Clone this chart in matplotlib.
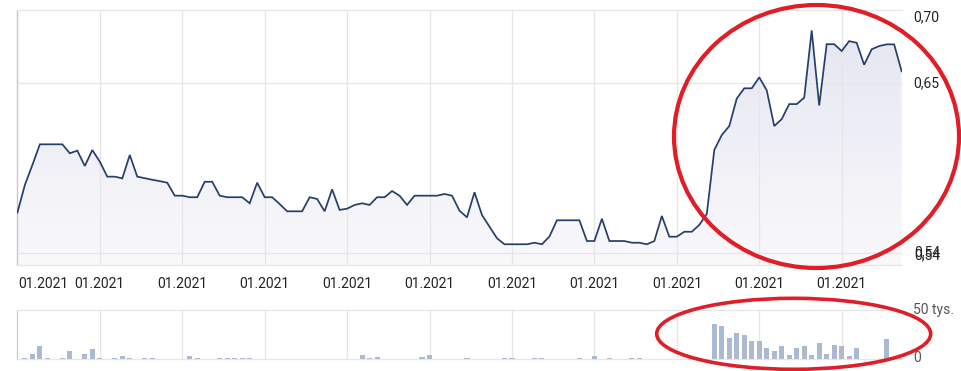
import numpy as np
import matplotlib
matplotlib.use("Agg")
import matplotlib.pyplot as plt
from matplotlib.patches import Polygon, Ellipse

plt.rcParams['font.family'] = ['Roboto', 'DejaVu Sans']

# ---------------- data ----------------
price = [
    0.5662, 0.5841, 0.5970, 0.6104, 0.6104, 0.6104, 0.6104, 0.6046, 0.6063, 0.5964,
    0.6067, 0.5992, 0.5895, 0.5895, 0.5884, 0.6035, 0.5895, 0.5885, 0.5875, 0.5866,
    0.5856, 0.5772, 0.5772, 0.5762, 0.5762, 0.5862, 0.5862, 0.5772, 0.5762, 0.5762,
    0.5762, 0.5723, 0.5856, 0.5762, 0.5762, 0.5718, 0.5671, 0.5671, 0.5671, 0.5762,
    0.5751, 0.5671, 0.5813, 0.5680, 0.5688, 0.5712, 0.5723, 0.5712, 0.5762, 0.5762,
    0.5802, 0.5772, 0.5712, 0.5772, 0.5772, 0.5772, 0.5772, 0.5783, 0.5772, 0.5675,
    0.5632, 0.5794, 0.5647, 0.5572, 0.5497, 0.5458, 0.5458, 0.5458, 0.5458, 0.5468,
    0.5458, 0.5508, 0.5613, 0.5613, 0.5613, 0.5613, 0.5479, 0.5479, 0.5623, 0.5479,
    0.5479, 0.5479, 0.5468, 0.5468, 0.5458, 0.5479, 0.5641, 0.5507, 0.5507, 0.5539,
    0.5539, 0.5583, 0.5654, 0.6067, 0.6164, 0.6222, 0.6400, 0.6466, 0.6466, 0.6537,
    0.6453, 0.6222, 0.6267, 0.6364, 0.6364, 0.6405, 0.6840, 0.6355, 0.6751, 0.6751,
    0.6707, 0.6771, 0.6760, 0.6618, 0.6718, 0.6739, 0.6750, 0.6750, 0.6576,
]

volume_k = [
    0, 1.5, 5, 13, 1.3, 0, 1.3, 8, 0, 5,
    10, 0.7, 0, 0.7, 3, 1.3, 0, 1, 1, 0,
    0, 0, 0, 2.7, 1.3, 0, 0, 1, 1, 1.3,
    1.3, 0.7, 0, 0, 0, 0.5, 0, 0, 0, 0,
    0, 0, 0.5, 0.5, 0.5, 0.5, 4, 1, 2.3, 0,
    0, 0, 0, 0, 2.3, 4.3, 0, 0.5, 0, 0,
    1.3, 0, 0.5, 0, 0, 1.3, 1.3, 0.5, 0, 0.7,
    1, 0, 0, 0.5, 0, 0.7, 0, 2.7, 0, 0.7,
    0, 0.5, 0.7, 1.3, 0, 0.3, 0.3, 0.3, 0, 0,
    0, 0, 0, 36, 34, 21.7, 27, 25, 18.7, 18.7,
    11, 8, 13, 4, 11, 13, 4, 16.7, 5, 14,
    13, 3, 11.6, 0, 0, 0, 20, 0, 1,
]

tick_pos = [0, 11, 22, 33, 44, 55, 66, 77, 88, 99, 110]
tick_labels = ["01.2021"] * len(tick_pos)
ytick_vals = [0.70, 0.65, 0.54]
ytick_labels = ["0,70", "0,65", "0,54"]
vol_labels = ["50 tys.", "0"]

# ---------------- layout ----------------
W, H = 962, 371
fig = plt.figure(figsize=(W / 100, H / 100), dpi=100)

def fx(px):
    return px / W

def fy(py):
    return 1 - py / H

L, R = 17, 902
ax = fig.add_axes([fx(L), fy(265), fx(R - L), (265 - 10) / H])
axv = fig.add_axes([fx(L), fy(359), fx(R - L), (359 - 310) / H])

x = np.arange(len(price))
xlim = (-0.05, len(price) - 1 + 0.05)
ylim = (0.5324, 0.6972)

grid_c = '#e6e6e9'
line_c = '#263f6a'

# ---- main panel ----
ax.set_xlim(*xlim)
ax.set_ylim(*ylim)
for p in tick_pos[1:]:
    ax.axvline(p, color=grid_c, lw=0.9, zorder=2)
for v in ytick_vals[1:]:
    ax.axhline(v, color=grid_c, lw=0.9, zorder=2)

verts = [(x[0], ylim[0])] + list(zip(x, price)) + [(x[-1], ylim[0])]
poly = Polygon(verts, closed=True, facecolor='none', edgecolor='none')
ax.add_patch(poly)
grad = np.linspace(0, 1, 256).reshape(-1, 1)
top_c = np.array([226, 226, 239]) / 255
bot_c = np.array([249, 249, 252]) / 255
img = bot_c + (top_c - bot_c) * grad[..., None]
im = ax.imshow(img, extent=[xlim[0], xlim[1], ylim[0], ylim[1]], origin='lower',
               aspect='auto', zorder=1, alpha=0.9)
im.set_clip_path(poly)
ax.plot(x, price, color=line_c, lw=1.25, zorder=4, solid_joinstyle='miter')

ax.set_xticks([])
ax.set_yticks([])
for s in ['top', 'right', 'bottom']:
    ax.spines[s].set_color(grid_c)
    ax.spines[s].set_linewidth(0.9)
ax.spines['right'].set_visible(False)
ax.spines['left'].set_color('#c8c8cc')
ax.spines['left'].set_linewidth(1.0)

# ---- volume panel ----
axv.set_xlim(*xlim)
axv.set_ylim(0, 50)
for p in tick_pos[1:]:
    axv.axvline(p, color=grid_c, lw=0.9, zorder=1)
axv.bar(x, volume_k, width=0.68, color='#abb9d2', zorder=3)
axv.set_xticks([])
axv.set_yticks([])
for s in ['top', 'bottom']:
    axv.spines[s].set_color(grid_c)
    axv.spines[s].set_linewidth(0.9)
axv.spines['right'].set_visible(False)
axv.spines['left'].set_color('#c8c8cc')

# ---- labels ----
tc = '#222222'
for i, (p, lab) in enumerate(zip(tick_pos, tick_labels)):
    px = L + (p - xlim[0]) / (xlim[1] - xlim[0]) * (R - L)
    if i == 0:
        fig.text(fx(18), fy(284), lab, ha='left', va='center', fontsize=10, color=tc)
    else:
        fig.text(fx(px), fy(284), lab, ha='center', va='center', fontsize=10, color=tc)

ylab_py = [17, 83]
for lab, py in zip(ytick_labels[:2], ylab_py):
    fig.text(fx(913), fy(py), lab, ha='left', va='center', fontsize=10, color=tc)
fig.text(fx(914), fy(252), ytick_labels[2], ha='left', va='center', fontsize=10, color=tc)
fig.text(fx(914), fy(255), ytick_labels[2], ha='left', va='center', fontsize=10, color=tc)

fig.text(fx(913), fy(310), vol_labels[0], ha='left', va='center', fontsize=10, color='#555555')
fig.text(fx(913), fy(358), vol_labels[1], ha='left', va='center', fontsize=10, color='#555555')

# ---- red annotation ellipses ----
red = '#e01e28'
e1 = Ellipse((fx(816.5), fy(136.5)), 285 / W, 263 / H, transform=fig.transFigure,
             fill=False, edgecolor=red, lw=3.0, zorder=10)
e2 = Ellipse((fx(793.7), fy(333.8)), 274 / W, 71 / H, transform=fig.transFigure,
             fill=False, edgecolor=red, lw=2.6, zorder=10)
fig.add_artist(e1)
fig.add_artist(e2)

fig.savefig('out.png', dpi=100)
